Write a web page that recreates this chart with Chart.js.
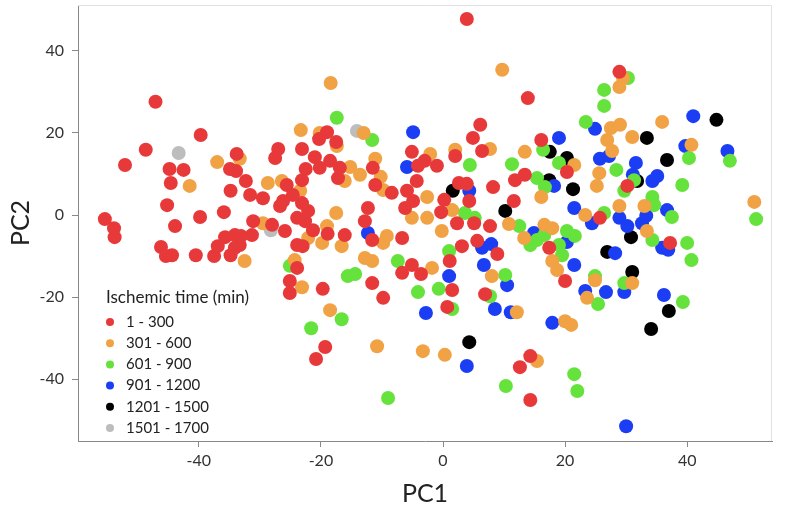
<!DOCTYPE html>
<html>
<head>
<meta charset="utf-8">
<script src="https://cdn.jsdelivr.net/npm/chart.js@4.4.1/dist/chart.umd.min.js"></script>
<style>
  html, body { margin: 0; padding: 0; background: #fff; }
  #wrap { width: 787px; height: 517px; }
</style>
</head>
<body>
<div id="wrap"><canvas id="pca"></canvas></div>
<script>
'use strict';

// ---- data (PC1, PC2) per ischemic time group ----
const groupLabels = ['1 - 300', '301 - 600', '601 - 900', '901 - 1200', '1201 - 1500', '1501 - 1700'];
const groupColors = ['#e8393a', '#f0a244', '#66e23c', '#1b3ef4', '#000000', '#bdbdbd'];

const t1to300 = [
    [3.9,47.8],[-47.1,27.6],[13.9,28.5],[28.9,34.9],[-39.7,19.5],[-19.0,20.2],[-20.3,18.5],[6.1,22.0],[4.9,18.8],[16.1,18.3],
    [-48.7,15.9],[-33.8,14.9],[-27.0,16.1],[-23.1,16.1],[-17.5,17.8],[-5.1,15.4],[6.4,15.6],[2.0,14.4],[-52.1,12.2],[-44.8,11.2],
    [-42.5,11.0],[-34.9,11.2],[-33.9,10.7],[-32.3,8.3],[-44.6,7.8],[-34.8,5.9],[-45.2,2.4],[-39.8,-0.5],[-35.9,0.7],[-55.4,-1.0],
    [-53.9,-3.2],[-53.8,-5.4],[-43.9,-2.7],[-31.1,-1.5],[-46.2,-7.8],[-45.4,-10.0],[-44.4,-9.8],[-40.5,-9.8],[-37.5,-10.0],[-36.9,-7.6],
    [-35.7,-5.4],[-34.1,-4.9],[-33.1,-5.1],[-34.1,-8.0],[-34.8,-9.8],[-33.3,-7.3],[-31.3,-4.9],[-27.5,13.9],[-21.0,14.1],[-18.5,13.2],
    [-20.2,11.5],[-16.9,11.5],[-22.5,11.2],[-17.2,9.0],[-11.5,11.5],[-11.1,7.3],[-8.4,5.4],[-4.1,12.0],[-4.3,8.3],[-5.9,5.9],
    [-4.9,3.4],[-6.2,1.7],[-25.6,7.3],[-23.1,8.5],[-24.6,4.9],[-29.5,4.1],[-31.6,4.9],[-26.7,2.2],[-26.2,3.4],[-23.1,2.9],
    [-22.1,1.0],[-23.9,-0.7],[-22.6,-1.5],[-28.0,-2.4],[-25.9,-3.9],[-21.3,-3.7],[-18.9,-4.6],[-23.9,-7.3],[-23.0,-7.6],[-16.1,-4.9],
    [-12.3,1.7],[-12.8,-1.5],[-11.6,-6.1],[-6.7,-5.6],[-5.1,-12.2],[-3.6,-14.4],[-6.7,-14.1],[-23.9,-12.9],[-11.6,-16.6],[-25.1,-19.0],
    [-25.1,-16.1],[-19.7,-18.0],[-9.8,-20.2],[-19.3,-32.2],[-20.8,-35.1],[-3.0,13.2],[-1.0,12.0],[20.3,10.5],[13.4,9.8],[11.8,8.5],
    [11.6,3.4],[8.2,6.8],[2.6,7.8],[3.9,7.6],[4.3,3.4],[0.2,3.7],[-0.3,0.7],[2.3,-2.0],[5.1,-2.0],[7.7,-2.7],
    [17.4,-8.0],[20.0,-16.1],[3.1,-7.6],[5.6,-6.3],[8.9,-9.5],[1.1,-11.2],[1.5,-18.3],[6.9,-19.3],[30.2,7.1],[25.7,-0.7],
    [37.2,-6.8],[0.7,-22.4],[14.3,-34.4],[12.6,-37.1],[14.3,-45.1]
];

const t301to600 = [
    [-18.4,32.2],[9.7,35.4],[29.5,33.4],[28.9,31.2],[-23.3,20.7],[-20.2,20.0],[-13.0,20.0],[-17.4,16.8],[7.7,16.1],[13.4,15.4],
    [-2.1,14.9],[2.0,15.9],[35.9,22.7],[27.5,21.2],[29.0,22.0],[26.9,18.3],[31.0,19.0],[40.7,17.1],[27.7,15.6],[-37.0,12.9],
    [-33.3,13.7],[-41.5,7.1],[-32.5,-11.2],[-15.2,11.7],[-13.6,9.8],[-16.1,8.3],[-11.1,13.7],[-10.2,9.3],[-9.8,6.1],[-28.7,7.8],
    [-26.4,8.3],[-23.4,5.9],[-29.5,-2.0],[-19.0,-2.7],[-22.1,-5.6],[-19.8,-6.8],[-16.6,-7.6],[-17.5,0.5],[-9.2,-5.1],[-9.8,-6.8],
    [-5.1,-0.7],[-12.8,-10.5],[-11.6,-11.2],[-24.3,-11.0],[-23.1,-17.6],[-2.6,4.4],[1.5,1.2],[-2.6,-0.7],[-0.2,-3.9],[21.5,12.2],
    [16.1,4.4],[10.8,-2.2],[23.3,0.0],[16.6,-2.4],[17.9,-3.2],[13.3,-5.6],[17.9,-11.2],[18.7,-13.4],[24.9,-15.9],[-1.8,-12.9],
    [8.0,-14.9],[25.6,10.2],[25.2,7.1],[51.0,3.2],[33.0,2.2],[28.9,2.2],[33.4,-3.9],[31.0,-16.6],[-18.5,-23.2],[-10.8,-32.0],
    [-3.3,-33.2],[12.1,-23.7],[20.0,-25.9],[21.0,-26.8],[23.6,-20.2],[0.3,-34.1],[15.4,-35.6]
];

const t601to900 = [
    [-17.4,23.7],[-11.6,18.3],[23.4,22.7],[30.3,33.4],[26.4,30.5],[26.4,26.6],[16.4,15.9],[-7.4,-11.2],[-25.1,-12.4],[-15.6,-14.9],
    [-14.4,-14.4],[-4.1,-18.8],[4.4,12.2],[11.3,12.4],[19.0,12.7],[15.4,9.0],[16.7,6.8],[3.6,0.5],[5.2,-0.7],[12.5,-2.7],
    [20.3,-3.9],[21.6,-5.1],[14.3,-7.3],[15.4,-6.1],[16.6,-4.9],[19.0,-7.3],[19.5,-9.8],[24.9,-14.9],[1.0,-8.8],[10.2,-14.6],
    [-0.7,-18.0],[40.3,13.9],[47.0,13.2],[28.4,11.0],[31.3,8.5],[29.7,5.9],[39.2,7.3],[51.3,-1.0],[34.3,4.4],[34.6,2.4],
    [37.5,-0.5],[26.4,0.5],[34.3,-6.1],[40.0,-6.8],[40.7,-11.0],[29.7,-16.6],[-16.6,-25.4],[-21.6,-27.6],[-9.0,-44.6],[1.5,-22.9],
    [7.7,-19.8],[25.4,-21.7],[10.3,-41.7],[21.5,-38.8],[22.0,-42.9],[39.3,-21.2]
];

const t901to1200 = [
    [-4.9,20.2],[19.0,18.8],[24.9,21.0],[41.0,24.1],[39.7,16.8],[46.6,15.6],[-5.9,11.7],[-12.3,-4.4],[25.7,13.7],[27.2,14.4],
    [18.2,7.1],[4.3,5.9],[21.5,1.7],[24.4,-2.0],[14.9,-4.4],[20.3,-6.6],[21.5,-12.2],[23.3,-18.5],[6.4,-8.0],[7.9,-7.1],
    [6.7,-12.2],[1.0,-14.9],[10.5,-17.1],[31.6,12.7],[31.1,9.8],[34.3,8.3],[35.1,9.5],[36.7,1.2],[28.9,-0.7],[30.2,-2.7],
    [33.3,-0.2],[32.6,-2.0],[35.9,-8.0],[36.9,-8.5],[28.2,-9.3],[26.7,-18.8],[29.7,-18.8],[36.2,-19.5],[-2.8,-23.9],[8.5,-22.9],
    [11.1,-23.7],[17.9,-26.3],[3.9,-36.8],[30.0,-51.5]
];

const t1201to1500 = [
    [17.5,15.4],[20.3,13.9],[17.4,8.5],[21.3,6.3],[1.6,5.9],[10.2,1.0],[33.4,18.8],[44.8,23.2],
    [36.7,13.4],[31.8,8.3],[30.8,-5.4],[26.9,-9.0],[31.0,-13.9],[37.0,-23.4],[34.1,-27.8],[4.3,-31.0]
];

const t1501to1700 = [[-43.3,15.1],[-14.1,20.5],[-28.2,-3.7]];

const groups = [t1to300, t301to600, t601to900, t901to1200, t1201to1500, t1501to1700];

const xTicks = [-40, -20, 0, 20, 40];
const yTicks = [-40, -20, 0, 20, 40];
const xTitle = 'PC1';
const yTitle = 'PC2';
const legendTitle = 'Ischemic time (min)';

const FONT = 'Lato, "Open Sans", sans-serif';

// box around the plot: dark left/bottom, light top/right
const frame = {
    id: 'frame',
    beforeDatasetsDraw(chart) {
        const { ctx, chartArea: a } = chart;
        ctx.save();
        ctx.strokeStyle = '#e2e2e2';
        ctx.lineWidth = 1;
        ctx.beginPath();
        ctx.moveTo(a.left, a.top + 0.5);
        ctx.lineTo(a.right - 0.5, a.top + 0.5);
        ctx.lineTo(a.right - 0.5, a.bottom);
        ctx.stroke();
        ctx.restore();
    }
};

// legend drawn inside the plot, lower left
const insetLegend = {
    id: 'insetLegend',
    afterDatasetsDraw(chart) {
        const { ctx, chartArea: a } = chart;
        const x0 = a.left + 28, y0 = 298;
        ctx.save();
        ctx.fillStyle = '#222';
        ctx.textBaseline = 'middle';
        ctx.font = '17px ' + FONT;
        ctx.fillText(legendTitle, x0, y0);
        ctx.font = '15px ' + FONT;
        chart.data.datasets.forEach((ds, i) => {
            const cy = y0 + 24 + i * 21.2;
            ctx.beginPath();
            ctx.fillStyle = ds.backgroundColor;
            ctx.arc(x0 + 4, cy, 4, 0, Math.PI * 2);
            ctx.fill();
            ctx.fillStyle = '#222';
            ctx.fillText(ds.label, x0 + 20, cy);
        });
        ctx.restore();
    }
};

const datasets = groups.map((g, i) => ({
    label: groupLabels[i],
    data: g.map(([x, y]) => ({ x, y })),
    backgroundColor: groupColors[i],
    borderWidth: 0,
    pointRadius: 7,
    pointHoverRadius: 7
}));

// scales reserve room for half a tick label at their ends; the frame here is fixed
function noEndPadding(s) {
    s.paddingTop = 0; s.paddingBottom = 0;
    s.paddingLeft = 0; s.paddingRight = 0;
}

new Chart(document.getElementById('pca'), {
    type: 'scatter',
    data: { datasets },
    plugins: [frame, insetLegend],
    options: {
        responsive: true,
        maintainAspectRatio: false,
        animation: false,
        events: [],
        layout: { autoPadding: false, padding: { top: 5, right: 15, left: 0, bottom: 0 } },
        plugins: { legend: { display: false }, tooltip: { enabled: false } },
        scales: {
            x: {
                type: 'linear',
                min: -59.8, max: 53.9,
                afterBuildTicks: s => { s.ticks = xTicks.map(v => ({ value: v })); },
                afterFit: s => { s.height = 76; noEndPadding(s); },
                grid: { drawOnChartArea: false, tickLength: 6, color: '#888' },
                border: { color: '#888' },
                ticks: { color: '#333', font: { size: 16, family: FONT }, padding: 4 },
                title: { display: true, text: xTitle, color: '#222', font: { size: 25, family: FONT }, padding: { top: 0, bottom: 8 } }
            },
            y: {
                type: 'linear',
                min: -55.1, max: 51.2,
                afterBuildTicks: s => { s.ticks = yTicks.map(v => ({ value: v })); },
                afterFit: s => { s.width = 78; noEndPadding(s); },
                grid: { drawOnChartArea: false, tickLength: 6, color: '#888' },
                border: { color: '#888' },
                ticks: { color: '#333', font: { size: 16, family: FONT }, padding: 8 },
                title: { display: true, text: yTitle, color: '#222', font: { size: 25, family: FONT }, padding: { top: 6, bottom: 0 } }
            }
        }
    }
});
</script>
</body>
</html>
